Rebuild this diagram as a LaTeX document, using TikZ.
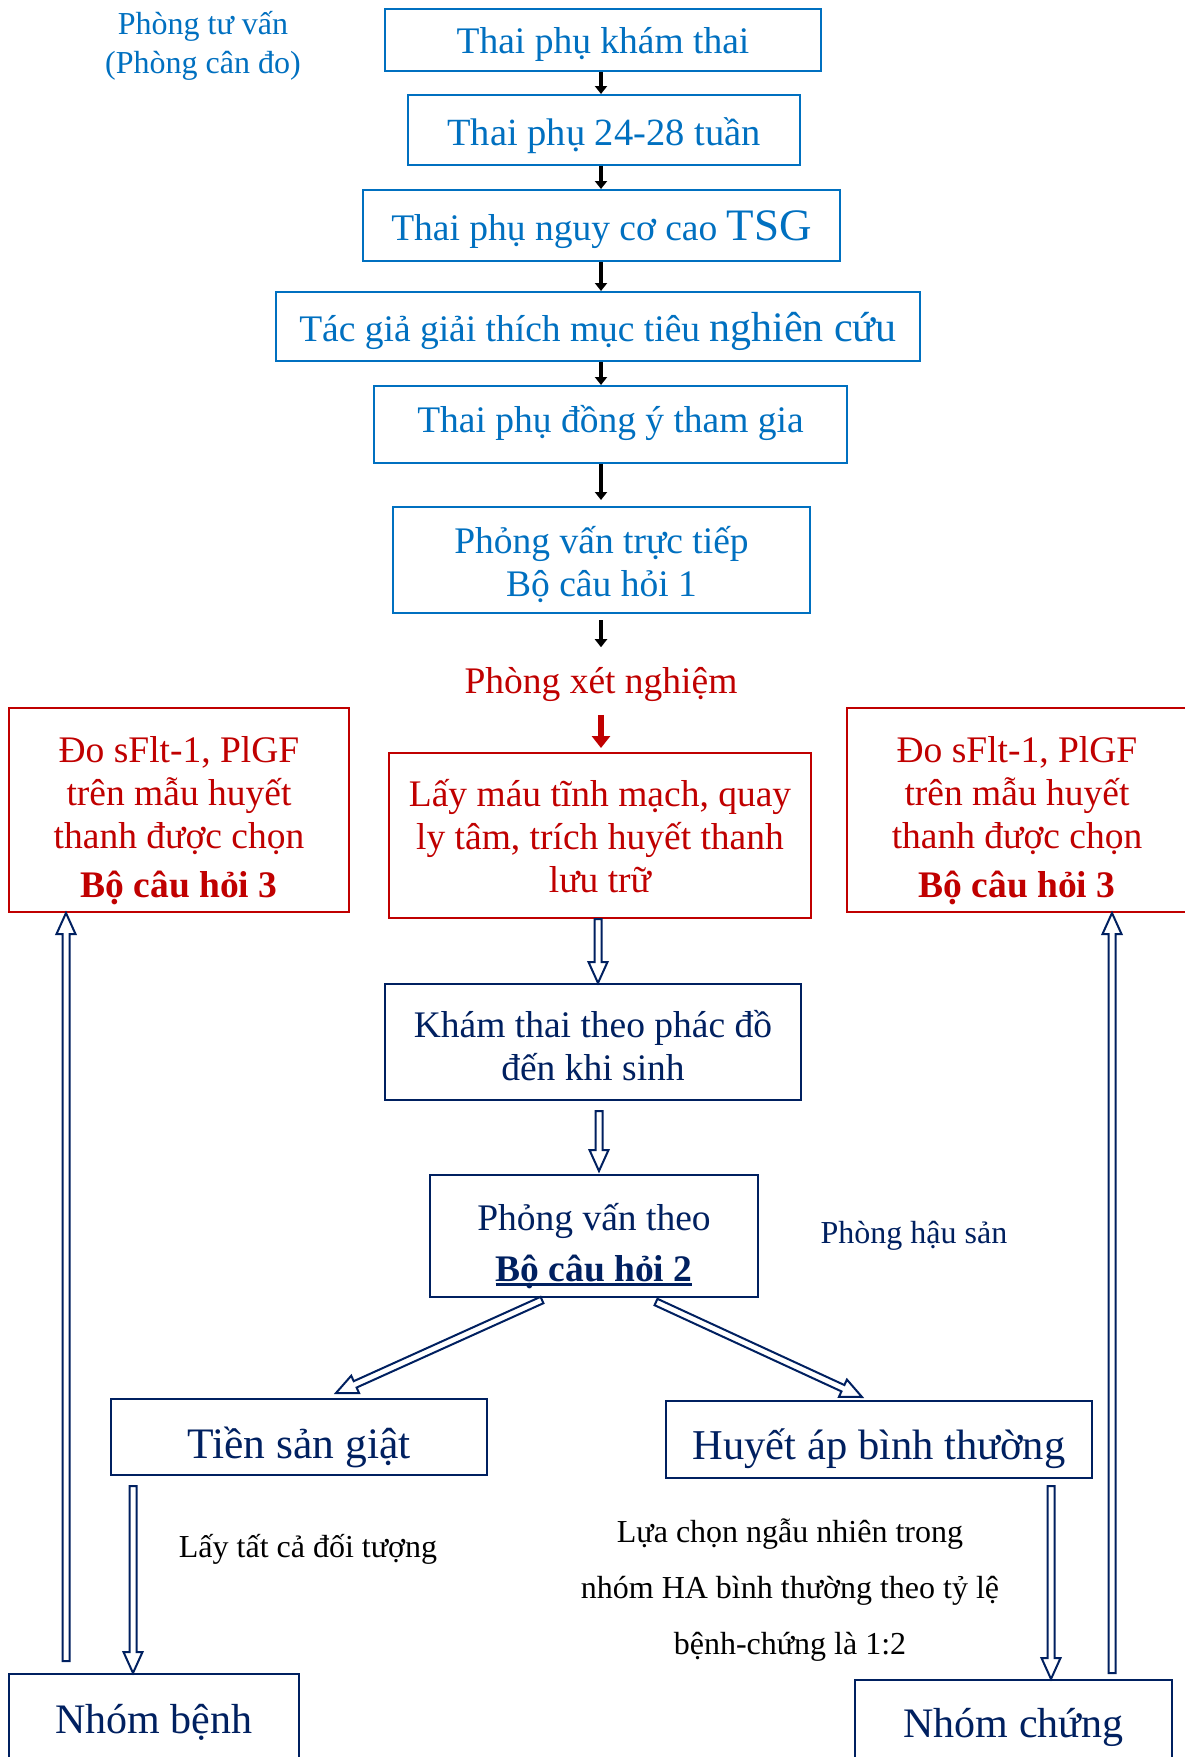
\documentclass[tikz,border=0pt]{standalone}
\usepackage{fontspec}
\setmainfont{Liberation Serif}
\usetikzlibrary{arrows.meta,calc}
\definecolor{blueT}{HTML}{0070C0}
\definecolor{redC}{HTML}{C00000}
\definecolor{navyC}{HTML}{002060}
\newcommand\thickul[1]{\setbox0\hbox{#1}\rlap{\rule[-5pt]{\wd0}{3pt}}\box0}
\tikzset{
  bbox/.style={draw=blueT, line width=2pt, inner sep=0pt},
  rbox/.style={draw=redC, line width=2pt, inner sep=0pt},
  nbox/.style={draw=navyC, line width=2pt, inner sep=0pt},
  btxt/.style={inner sep=0pt, align=center, text=blueT, font=\fontsize{37.5}{43}\selectfont},
  rtxt/.style={inner sep=0pt, align=center, text=redC, font=\fontsize{37.5}{43}\selectfont},
  ntxt/.style={inner sep=0pt, align=center, text=navyC, font=\fontsize{37.5}{43}\selectfont},
  blk/.style={line width=3.5pt, black, -{Triangle[length=8pt,width=12pt]}},
  redarr/.style={line width=6pt, redC, -{Triangle[length=12pt,width=18pt]}},
  hollowarr/.style={draw=navyC, fill=white, line width=2pt, line join=miter},
  plain/.style={inner sep=0pt, align=center},
}
\newcommand\harrow[2]{%
  \path let \p1=($(#2)-(#1)$), \n1={atan2(\y1,\x1)}, \n2={veclen(\x1,\y1)} in
    \pgfextra{\pgfmathsetmacro\hAng{\n1}\pgfmathsetmacro\hLen{\n2}\global\let\hAng\hAng\global\let\hLen\hLen};
  \begin{scope}[shift={(#1)}, rotate=\hAng]
    \draw[hollowarr] (0pt,-3.5pt) -- ({\hLen pt-21pt},-3.5pt) -- ({\hLen pt-21pt},-9.5pt)
      -- ({\hLen pt},0pt) -- ({\hLen pt-21pt},9.5pt) -- ({\hLen pt-21pt},3.5pt)
      -- (0pt,3.5pt) -- cycle;
  \end{scope}}
\begin{document}
\begin{tikzpicture}[x=1pt,y=-1pt]
\useasboundingbox[fill=white] (0,0) rectangle (1185,1757);
\clip (0,0) rectangle (1185,1757);
\coordinate (ax) at (601,0);

% top blue chain
\node[bbox, minimum width=436pt, minimum height=62pt] (b1) at (603,40) {};
\node[btxt] (t1) at ($(b1.center)+(0,4.5)$) {Thai phụ khám thai};
\node[bbox, minimum width=392pt, minimum height=70pt] (b2) at (604,130) {};
\node[btxt, font=\fontsize{38.5}{43}\selectfont] (t2) at ($(b2.center)+(0,5.5)$) {Thai phụ 24-28 tuần};
\node[bbox, minimum width=477pt, minimum height=71pt] (b3) at (601.5,225.5) {};
\node[btxt] (t3) at ($(b3.center)+(0,4.5)$) {Thai phụ nguy cơ cao {\fontsize{45}{50}\selectfont TSG}};
\node[bbox, minimum width=644pt, minimum height=69pt] (b4) at (598,326.5) {};
\node[btxt] (t4) at ($(b4.center)+(0,4.5)$) {Tác giả giải thích mục tiêu {\fontsize{42}{48}\selectfont nghiên cứu}};
\node[bbox, minimum width=473pt, minimum height=77pt] (b5) at (610.5,424.5) {};
\node[btxt] (t5) at ($(b5.center)+(0,-2)$) {Thai phụ đồng ý tham gia};
\node[bbox, minimum width=417pt, minimum height=106pt] (b6) at (601.5,560) {};
\node[btxt] (t6) at ($(b6.center)+(0,4.5)$) {Phỏng vấn trực tiếp\\Bộ câu hỏi 1};

\node[plain, text=blueT, font=\fontsize{32}{39}\selectfont] (ptv) at (203,46) {Phòng tư vấn\\(Phòng cân đo)};

\node[rtxt] (pxn) at (601,684.5) {Phòng xét nghiệm};

% red boxes
\node[rbox, minimum width=422pt, minimum height=165pt] (rc) at (600,835.5) {};
\node[rtxt] (trc) at ($(rc.center)+(0,1)$) {Lấy máu tĩnh mạch, quay\\ly tâm, trích huyết thanh\\lưu trữ};
\node[rbox, minimum width=340pt, minimum height=204pt] (rl) at (179,810) {};
\node[rtxt] (trl) at ($(rl.center)+(0,10.5)$) {Đo sFlt-1, PlGF\\trên mẫu huyết\\thanh được chọn\\[6pt]\textbf{Bộ câu hỏi 3}};
\node[rbox, minimum width=340pt, minimum height=204pt] (rr) at (1017,810) {};
\node[rtxt] (trr) at ($(rr.center)+(0,10.5)$) {Đo sFlt-1, PlGF\\trên mẫu huyết\\thanh được chọn\\[6pt]\textbf{Bộ câu hỏi 3}};

% navy boxes
\node[nbox, minimum width=416pt, minimum height=116pt] (kt) at (593,1042) {};
\node[ntxt] (tkt) at ($(kt.center)+(0,4)$) {Khám thai theo phác đồ\\đến khi sinh};
\node[nbox, minimum width=328pt, minimum height=122pt] (pv) at (594,1236) {};
\node[ntxt, font=\fontsize{37.5}{51}\selectfont] (tpv) at ($(pv.center)+(0,10)$) {Phỏng vấn theo\\\thickul{\textbf{Bộ câu hỏi 2}}};
\node[plain, text=navyC, font=\fontsize{32}{36}\selectfont] (phs) at (914,1236) {Phòng hậu sản};

\node[nbox, minimum width=376pt, minimum height=76pt] (ts) at (299,1437) {};
\node[ntxt, font=\fontsize{43.5}{48}\selectfont] (tts) at ($(ts.center)+(0,10.5)$) {Tiền sản giật};
\node[nbox, minimum width=426pt, minimum height=77pt] (ha) at (879,1439.5) {};
\node[ntxt, font=\fontsize{42.5}{48}\selectfont] (tha) at ($(ha.center)+(0,9)$) {Huyết áp bình thường};

\node[nbox, minimum width=290pt, minimum height=100pt] (nb) at (154,1724) {};
\node[ntxt, font=\fontsize{42}{48}\selectfont] (tnb) at ($(nb.center)+(0,-2)$) {Nhóm bệnh};
\node[nbox, minimum width=317pt, minimum height=100pt] (nc) at (1013.5,1730) {};
\node[ntxt, font=\fontsize{42}{48}\selectfont] (tnc) at ($(nc.center)+(0,-3)$) {Nhóm chứng};

\node[plain, text=black, font=\fontsize{32}{36}\selectfont] (lay) at (308,1549) {Lấy tất cả đối tượng};
\node[plain, text=black, font=\fontsize{32}{56}\selectfont] (lua) at (790,1590)
  {Lựa chọn ngẫu nhiên trong\\nhóm HA bình thường theo tỷ lệ\\bệnh-chứng là 1:2};

% black arrows
\draw[blk] (b1.south -| ax) -- (b2.north -| ax);
\draw[blk] (b2.south -| ax) -- (b3.north -| ax);
\draw[blk] (b3.south -| ax) -- (b4.north -| ax);
\draw[blk] (b4.south -| ax) -- (b5.north -| ax);
\draw[blk] (b5.south -| ax) -- ([yshift=6pt]b6.north -| ax);
\draw[blk] ([yshift=-6pt]b6.south -| ax) -- ([yshift=20pt]pxn.north -| ax);
\draw[redarr] ([yshift=-13pt]pxn.south -| ax) -- ([yshift=4pt]rc.north -| ax);

% hollow arrows
\coordinate (h1s) at (rc.south -| 598,0);
\coordinate (h1e) at (kt.north -| 598,0);
\coordinate (h2s) at ([yshift=-10pt]kt.south -| 599,0);
\coordinate (h2e) at ([yshift=3pt]pv.north -| 599,0);
\coordinate (h3s) at ([yshift=-2pt]pv.south -| 542,0);
\coordinate (h3e) at ([yshift=5pt]ts.north -| 336,0);
\coordinate (h4s) at ([yshift=-4pt]pv.south -| 656,0);
\coordinate (h4e) at ([yshift=3pt]ha.north -| 862,0);
\coordinate (h5s) at ([yshift=-10pt]ts.south -| 133,0);
\coordinate (h5e) at (nb.north -| 133,0);
\coordinate (h6s) at ([yshift=-7pt]ha.south -| 1051,0);
\coordinate (h6e) at (nc.north -| 1051,0);
\coordinate (h7s) at ([yshift=12pt]nb.north -| 66,0);
\coordinate (h7e) at (rl.south -| 66,0);
\coordinate (h8s) at ([yshift=6pt]nc.north -| 1112,0);
\coordinate (h8e) at (rr.south -| 1112,0);
\harrow{h1s}{h1e}
\harrow{h2s}{h2e}
\harrow{h3s}{h3e}
\harrow{h4s}{h4e}
\harrow{h5s}{h5e}
\harrow{h6s}{h6e}
\harrow{h7s}{h7e}
\harrow{h8s}{h8e}
\end{tikzpicture}
\end{document}
